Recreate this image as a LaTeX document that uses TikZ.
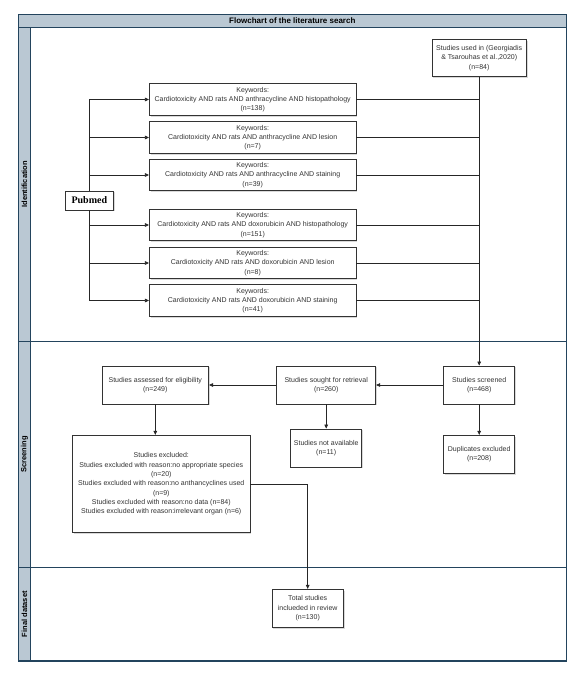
\documentclass[tikz,border=0pt]{standalone}
\usepackage{fontspec}
\setmainfont{Liberation Sans}
\newfontfamily\pubfont{Liberation Serif}
\usetikzlibrary{arrows.meta,shadows,calc}
\definecolor{lanefill}{HTML}{BAC8D3}
\definecolor{laneline}{HTML}{23445D}
\newcommand{\kw}{206.7}
\newcommand{\kh}{31.5}

\begin{document}
\begin{tikzpicture}[x=1pt,y=-1pt,
    box/.style={draw=black!80,fill=white,line width=.8pt,align=center,inner sep=1pt,text=black!80,
        font=\fontsize{7}{9.3}\selectfont,
        drop shadow={shadow xshift=1.3pt,shadow yshift=-1.3pt,opacity=.3}},
    arr/.style={-{Triangle[length=4pt,width=3.6pt]},line width=.6pt,black!85},
    link/.style={line width=.6pt,black!85},
    lane/.style={draw=laneline,fill=lanefill,line width=1.1pt},
    lanetext/.style={rotate=90,font=\fontsize{7.5}{9}\selectfont\bfseries}]
                    \useasboundingbox (0,0) rectangle (582,677);
                    \coordinate (tl) at (18.3,14.7);
                    \coordinate (br) at (566.3,661);
                    \filldraw[lane] (tl) rectangle (br |- 0,27.3);
                    \filldraw[lane] (18.3,27.3) rectangle (30.7,661);
                    \draw[laneline,line width=1.1pt] (tl) rectangle (br);
                    \foreach \y in {27.3,341.3,567.3}{
                    \draw[laneline,line width=1.1pt] (18.3,\y) -- (566.3,\y);
                    }
                    \node[font=\fontsize{8}{9}\selectfont\bfseries] (title) at (292.3,21) {Flowchart of the literature search};
                    \node[lanetext] (lid) at (24.5,184.3) {Identification};
                    \node[lanetext] (lscr) at (24.5,454.3) {Screening};
                    \node[lanetext] (lfin) at (24.5,614.2) {Final dataset};

                    \node[box,text=black,font=\pubfont\bfseries\fontsize{10}{12}\selectfont,minimum width=48,minimum height=19] (pub) at (89.3,200.5) {Pubmed};
                    \foreach \i/\y/\drug/\term/\n in {1/99.5/anthracycline/histopathology/138,2/137.5/anthracycline/lesion/7,3/175/anthracycline/staining/39,4/225/doxorubicin/histopathology/151,5/263/doxorubicin/lesion/8,6/300.5/doxorubicin/staining/41}{
                    \node[box,minimum width=\kw,minimum height=\kh] (k\i) at (252.7,\y) {Keywords:\\Cardiotoxicity AND rats AND \drug\ AND \term\\(n=\n)};
                    }
                    \node[box,minimum width=94.3,minimum height=37.4] (used) at (479.2,58) {Studies used in (Georgiadis\\\& Tsarouhas et al.,2020)\\(n=84)};
                    \node[box,minimum width=71,minimum height=38] (scr) at (479.2,385) {Studies screened\\(n=468)};
                    \node[box,minimum width=71,minimum height=38] (dup) at (479.2,454.3) {Duplicates excluded\\(n=208)};
                    \node[box,minimum width=99,minimum height=38] (sought) at (326.2,385) {Studies sought for retrieval\\(n=260)};
                    \node[box,minimum width=71,minimum height=38] (na) at (326.2,448) {Studies not available\\(n=11)};
                    \node[box,minimum width=106.7,minimum height=38] (elig) at (155.3,385) {Studies assessed for eligibility\\(n=249)};
                    \node[box,minimum width=177.3,minimum height=97.4] (excl) at (161.3,484) {Studies excluded:\\Studies excluded with reason:no appropriate species\\(n=20)\\Studies excluded with reason:no anthancyclines used\\(n=9)\\Studies excluded with reason:no data (n=84)\\Studies excluded with reason:irrelevant organ (n=6)};
                    \node[box,minimum width=71.6,minimum height=38] (tot) at (307.7,608.3) {Total studies\\inclueded in review\\(n=130)};

                    \foreach \i in {1,2,3}{
                    \draw[arr] (pub.north) |- (k\i.west);
                    }
                    \foreach \i in {4,5,6}{
                    \draw[arr] (pub.south) |- (k\i.west);
                    }
                    \foreach \i in {1,...,6}{
                    \draw[link] (k\i.east) -- (k\i.east -| used.south);
                    }
                    \draw[arr] (used.south) -- (scr.north);
                    \draw[arr] (scr.west) -- (sought.east);
                    \draw[arr] (scr.south) -- (dup.north);
                    \draw[arr] (sought.west) -- (elig.east);
                    \draw[arr] (sought.south) -- (na.north);
                    \draw[arr] (elig.south) -- (elig.south |- excl.north);
                    \draw[arr] (excl.east) -| (tot.north);
                    \end{tikzpicture}
\end{document}
